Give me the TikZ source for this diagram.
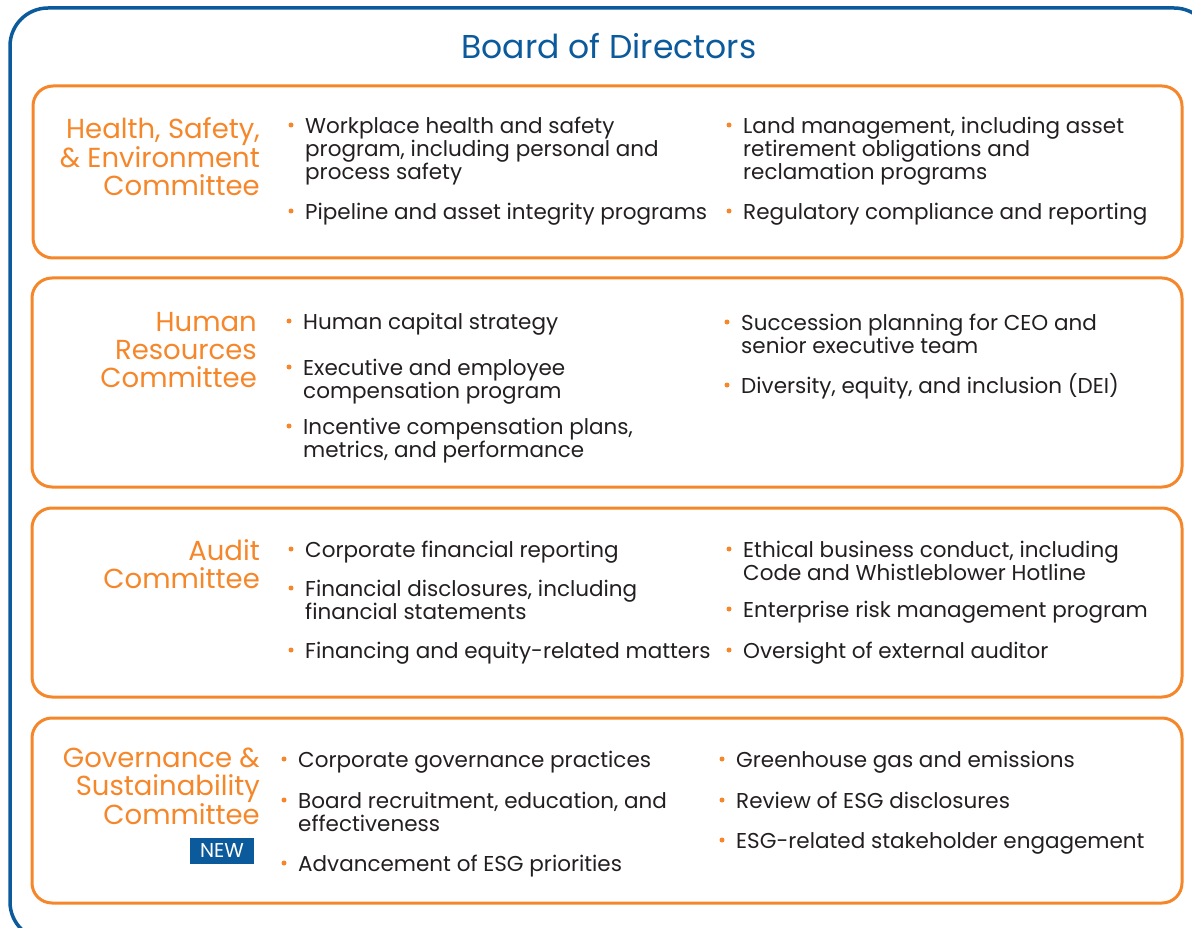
\documentclass[tikz,border=0pt]{standalone}
\usepackage{fontspec}
\setmainfont{Poppins}
\definecolor{bblue}{HTML}{0B5A9C}
\definecolor{borange}{HTML}{F5872A}
\definecolor{txt}{HTML}{231F20}
\newcommand{\bodyf}{\fontsize{21.5}{23}\selectfont}
\newcommand{\labf}{\fontsize{27.5}{28}\selectfont}
\newcommand{\bitem}[4]{%
  \node[bdot] (#1d) at (#2-14,#3-8) {};
  \node[btext] (#1) at (#2,#3-20) {\rule{0pt}{20pt}#4};
}
\newcommand{\clab}[4]{%
  \node[clabel] (#1) at (#2,#3-26) {\rule{0pt}{26pt}#4};
}
\begin{document}
\begin{tikzpicture}[x=1pt,y=-1pt,
  bdot/.style={circle,fill=borange,inner sep=0pt,minimum size=5pt},
  btext/.style={anchor=north west,align=left,inner sep=0pt,font=\bodyf,text=txt},
  clabel/.style={anchor=north east,align=right,inner sep=0pt,font=\labf,text=borange},
  cbox/.style={draw=borange,line width=3pt,rounded corners=20pt}]
\useasboundingbox (0,0) rectangle (1192,928);
\begin{scope}
\clip (0,0) rectangle (1192,928);
\draw[bblue,line width=3.5pt,rounded corners=38pt] (10,8) rectangle (1212,940);
\end{scope}
\node[anchor=base,inner sep=0pt,font=\fontsize{33}{36}\selectfont,text=bblue] (title) at (609,59) {Board of Directors};
% boxes
\draw[cbox] (33,86) rectangle (1182,258);
\draw[cbox] (32,278) rectangle (1182,487);
\draw[cbox] (32,508) rectangle (1182,697);
\draw[cbox] (32,718) rectangle (1182,903);
% labels
\clab{l1}{260}{138}{Health, Safety,\\\& Environment\\Committee}
\clab{l2}{257}{331}{Human\\Resources\\Committee}
\clab{l3}{260}{560}{Audit\\Committee}
\clab{l4}{260}{767}{Governance \&\\Sustainability\\Committee}
\node[fill=bblue,text=white,minimum width=64pt,minimum height=26pt,inner sep=0pt,font=\fontsize{20}{22}\selectfont] (new) at (222,851) {NEW};
% box 1
\bitem{a1}{305}{133}{Workplace health and safety\\program, including personal and\\process safety}
\bitem{a2}{305}{219}{Pipeline and asset integrity programs}
\bitem{a3}{743}{133}{Land management, including asset\\retirement obligations and\\reclamation programs}
\bitem{a4}{743}{219}{Regulatory compliance and reporting}
% box 2
\bitem{b1}{303}{329}{Human capital strategy}
\bitem{b2}{303}{375}{Executive and employee\\compensation program}
\bitem{b3}{303}{434}{Incentive compensation plans,\\metrics, and performance}
\bitem{b4}{741}{330}{Succession planning for CEO and\\senior executive team}
\bitem{b5}{741}{393}{Diversity, equity, and inclusion (DEI)}
% box 3
\bitem{c1}{305}{557}{Corporate financial reporting}
\bitem{c2}{305}{596}{Financial disclosures, including\\financial statements}
\bitem{c3}{305}{658}{Financing and equity-related matters}
\bitem{c4}{743}{557}{Ethical business conduct, including\\Code and Whistleblower Hotline}
\bitem{c5}{743}{617}{Enterprise risk management program}
\bitem{c6}{743}{658}{Oversight of external auditor}
% box 4
\bitem{d1}{298}{767}{Corporate governance practices}
\bitem{d2}{298}{808}{Board recruitment, education, and\\effectiveness}
\bitem{d3}{298}{871}{Advancement of ESG priorities}
\bitem{d4}{736}{767}{Greenhouse gas and emissions}
\bitem{d5}{736}{808}{Review of ESG disclosures}
\bitem{d6}{736}{848}{ESG-related stakeholder engagement}
\end{tikzpicture}
\end{document}
